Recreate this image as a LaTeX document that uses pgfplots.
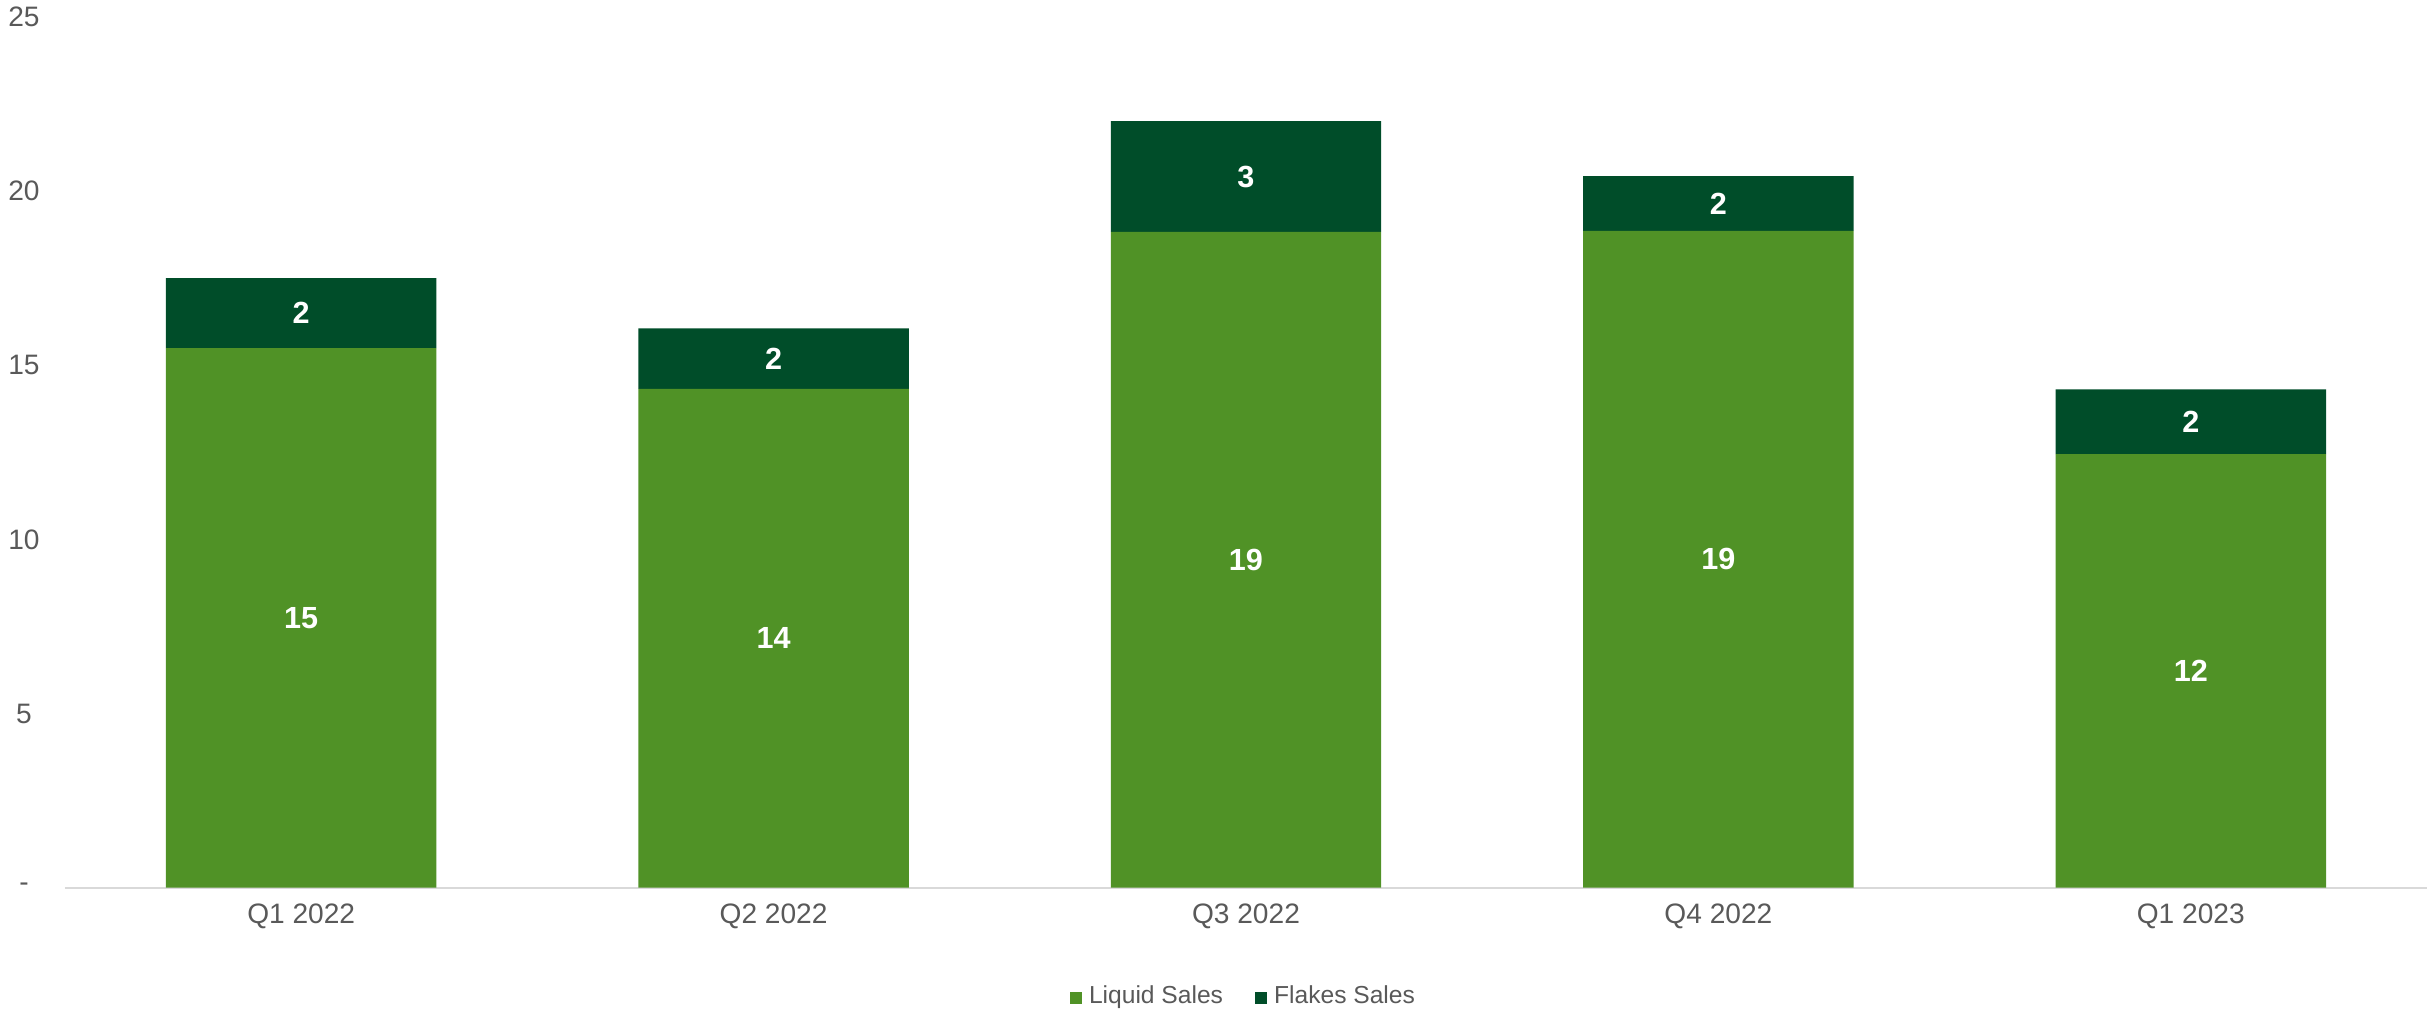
\documentclass[border=0pt]{standalone}
\usepackage{fontspec}
\setmainfont{Liberation Sans}
\usepackage{pgfplots}
\pgfplotsset{compat=1.18}
\definecolor{liq}{HTML}{509226}
\definecolor{flk}{HTML}{004D29}
\definecolor{txt}{HTML}{595959}
\definecolor{axl}{HTML}{D9D9D9}
\begin{document}
\begin{tikzpicture}
\path[use as bounding box] (0,0) rectangle (24.35cm,10.10cm);
\begin{axis}[
  at={(0.65cm,1.223cm)}, anchor=south west,
  scale only axis, width=23.62cm, height=8.707cm,
  ybar stacked, bar width=2.704cm,
  xmin=-0.5, xmax=4.5, ymin=0, ymax=25,
  xtick={0,1,2,3,4}, xticklabels={Q1 2022,Q2 2022,Q3 2022,Q4 2022,Q1 2023},
  ytick={0,5,10,15,20,25}, yticklabels={-,5,10,15,20,25},
  axis x line*=bottom, axis y line*=left,
  x axis line style={-, draw=axl, line width=0.6pt},
  y axis line style={draw=none},
  major tick length=0pt, tick style={draw=none},
  ticklabel style={font=\fontsize{8}{9}\selectfont, text=txt},
  yticklabel style={anchor=center, xshift=-0.41cm},
  xticklabel style={anchor=center, yshift=-0.29cm},
  /pgf/number format/assume math mode=true,
  visualization depends on=rawy \as \rawy,
  nodes near coords={\pgfmathprintnumber[fixed,precision=0]{\rawy}},
  every node near coord/.append style={anchor=center, text=white, font=\bfseries\fontsize{8.7}{10}\selectfont},
  legend style={at={(0.5,0)}, anchor=center, yshift=-1.10cm, draw=none, fill=none,
    legend columns=-1, font=\fontsize{7}{8}\selectfont, text=txt,
    /tikz/every even column/.append style={column sep=0.25cm}},
  legend cell align=left,
]
\addplot[fill=liq, draw=none, legend image code/.code={\fill[liq] (0cm,-0.06cm) rectangle (0.12cm,0.06cm);}] coordinates {(0,15.49) (1,14.32) (2,18.83) (3,18.86) (4,12.45)};
\addplot[fill=flk, draw=none, legend image code/.code={\fill[flk] (0cm,-0.06cm) rectangle (0.12cm,0.06cm);}] coordinates {(0,2.01) (1,1.74) (2,3.18) (3,1.57) (4,1.86)};
\legend{Liquid Sales, Flakes Sales}
\end{axis}
\end{tikzpicture}
\end{document}
